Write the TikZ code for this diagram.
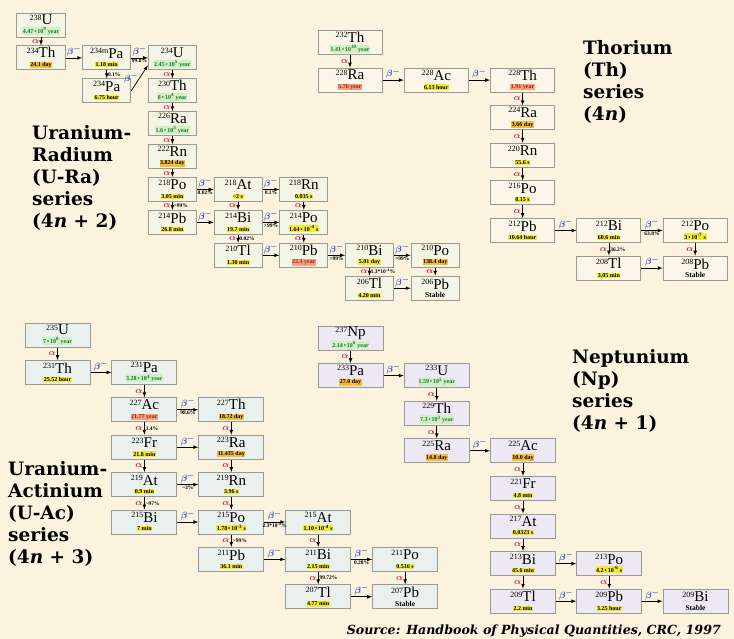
\documentclass[tikz,border=0pt]{standalone}
\usepackage{fontspec}
\setmainfont{Liberation Serif}
\newfontfamily\headfont{DejaVu Serif}
\usetikzlibrary{matrix, arrows}

\definecolor{bgcol}{HTML}{FBF3DE}
\definecolor{edgecol}{HTML}{9A9A94}
\definecolor{uracol}{HTML}{F4F5E4}
\definecolor{thcol}{HTML}{FBF6E8}
\definecolor{uaccol}{HTML}{E9F0EE}
\definecolor{npcol}{HTML}{EEE8F4}
\definecolor{hlgreen}{HTML}{0E7A2E}
\definecolor{hlmint}{HTML}{D2EEC4}
\definecolor{hlyellow}{HTML}{F4EA2E}
\definecolor{hlgold}{HTML}{F2BE3C}
\definecolor{hlsalmon}{HTML}{F4A07C}
\definecolor{hlred}{HTML}{9E2412}
\definecolor{alphacol}{HTML}{D8234F}
\definecolor{betacol}{HTML}{2A48D8}

\newcommand{\iso}[2]{{\fontsize{15}{15}\selectfont\raisebox{4.6pt}{\fontsize{8}{8}\selectfont #1}#2}}
\newcommand{\hlg}[1]{{\setlength{\fboxsep}{0.5pt}\colorbox{hlmint}{\color{hlgreen}\bfseries #1}}}
\newcommand{\hly}[1]{{\setlength{\fboxsep}{0.5pt}\colorbox{hlyellow}{\bfseries #1}}}
\newcommand{\hlo}[1]{{\setlength{\fboxsep}{0.5pt}\colorbox{hlgold}{\bfseries #1}}}
\newcommand{\hlr}[1]{{\setlength{\fboxsep}{0.5pt}\colorbox{hlsalmon}{\color{hlred}\bfseries #1}}}
\newcommand{\stab}{{\fontsize{7.5}{7.5}\selectfont\bfseries Stable}}
\newcommand{\tp}[1]{\,•\,10\textsuperscript{#1}}

\tikzset{
  nuc/.style={draw=edgecol, line width=1pt, inner sep=0pt, minimum height=24pt, align=center, font=\fontsize{6}{8.5}\selectfont},
  ura/.style={nuc, fill=uracol, minimum width=48pt},
  thr/.style={nuc, fill=thcol, minimum width=64pt},
  uac/.style={nuc, fill=uaccol, minimum width=65pt},
  npt/.style={nuc, fill=npcol, minimum width=65pt},
  decay/.style={->, >=latex, line width=0.7pt},
  alab/.style={left, inner sep=1.5pt, text=alphacol, font=\fontsize{9.5}{9.5}\selectfont\mathversion{bold}},
  blab/.style={above, inner sep=1pt, text=betacol, font=\fontsize{9.5}{9.5}\selectfont\mathversion{bold}},
  pct/.style={inner sep=1pt, font=\fontsize{5.5}{5.5}\selectfont\bfseries},
  head/.style={anchor=north west, inner sep=0pt, align=left, font=\headfont\bfseries\fontsize{18.5}{22}\selectfont},
}

\begin{document}
\begin{tikzpicture}[x=1pt, y=-1pt]
\useasboundingbox (0,0) rectangle (734,639);
\fill[bgcol] (0,0) rectangle (734,639);

\matrix (mura) [matrix anchor=u238.center, row sep={32.9pt,between origins}, column sep={65.7pt,between origins}] at (41,25) {
\node[ura](u238){\iso{238}{U}\\\hlg{4.47\tp{9} year}}; & & & & & & \\
\node[ura](th234){\iso{234}{Th}\\\hlo{24.1 day}}; & \node[ura](pa234m){\iso{234m}{Pa}\\\hly{1.18 min}}; & \node[ura](u234){\iso{234}{U}\\\hlg{2.45\tp{5} year}}; & & & & \\
 & \node[ura](pa234){\iso{234}{Pa}\\\hly{6.75 hour}}; & \node[ura](th230){\iso{230}{Th}\\\hlg{8\tp{4} year}}; & & & & \\
 & & \node[ura](ra226){\iso{226}{Ra}\\\hlg{1.6\tp{3} year}}; & & & & \\
 & & \node[ura](rn222){\iso{222}{Rn}\\\hlo{3.824 day}}; & & & & \\
 & & \node[ura](po218){\iso{218}{Po}\\\hly{3.05 min}}; & \node[ura](at218){\iso{218}{At}\\\hly{\textasciitilde2 s}}; & \node[ura](rn218){\iso{218}{Rn}\\\hly{0.035 s}}; & & \\
 & & \node[ura](pb214){\iso{214}{Pb}\\\hly{26.8 min}}; & \node[ura](bi214){\iso{214}{Bi}\\\hly{19.7 min}}; & \node[ura](po214){\iso{214}{Po}\\\hly{1.64\tp{-4} s}}; & & \\
 & & & \node[ura](tl210){\iso{210}{Tl}\\\hly{1.30 min}}; & \node[ura](pb210){\iso{210}{Pb}\\\hlr{22.3 year}}; & \node[ura](bi210){\iso{210}{Bi}\\\hly{5.01 day}}; & \node[ura](po210){\iso{210}{Po}\\\hlo{138.4 day}}; \\
 & & & & & \node[ura](tl206){\iso{206}{Tl}\\\hly{4.20 min}}; & \node[ura](pb206){\iso{206}{Pb}\\\stab}; \\
};
\draw [decay](u238) -- (th234) node[alab, pos=.5]{$\alpha$};
\draw [decay](th234) -- (pa234m) node[blab, pos=.5]{$\beta^-$};
\draw [decay](pa234m) -- (u234) node[blab, pos=.5]{$\beta^-$} node[pct, below, pos=.5]{99.8\%};
\draw [decay](pa234m) -- (pa234) node[pct, right, pos=.5]{0.1\%};
\draw [decay](pa234.east) -- ([yshift=5pt]u234.south west) node[blab, left, pos=.5]{$\beta^-$};
\draw [decay](u234) -- (th230) node[alab, pos=.5]{$\alpha$};
\draw [decay](th230) -- (ra226) node[alab, pos=.5]{$\alpha$};
\draw [decay](ra226) -- (rn222) node[alab, pos=.5]{$\alpha$};
\draw [decay](rn222) -- (po218) node[alab, pos=.5]{$\alpha$};
\draw [decay](po218) -- (at218) node[blab, pos=.5]{$\beta^-$} node[pct, below, pos=.5]{0.02\%};
\draw [decay](po218) -- (pb214) node[alab, pos=.5]{$\alpha$} node[pct, right, pos=.5]{>99\%};
\draw [decay](at218) -- (rn218) node[blab, pos=.5]{$\beta^-$} node[pct, below, pos=.5]{0.1\%};
\draw [decay](at218) -- (bi214) node[alab, pos=.5]{$\alpha$};
\draw [decay](pb214) -- (bi214) node[blab, pos=.5]{$\beta^-$};
\draw [decay](rn218) -- (po214) node[alab, pos=.5]{$\alpha$};
\draw [decay](bi214) -- (po214) node[blab, pos=.5]{$\beta^-$} node[pct, below, pos=.5]{>99\%};
\draw [decay](bi214) -- (tl210) node[alab, pos=.5]{$\alpha$} node[pct, right, pos=.5]{0.02\%};
\draw [decay](po214) -- (pb210) node[alab, pos=.5]{$\alpha$};
\draw [decay](tl210) -- (pb210) node[blab, pos=.5]{$\beta^-$};
\draw [decay](pb210) -- (bi210) node[blab, pos=.5]{$\beta^-$} node[pct, below, pos=.5]{>99\%};
\draw [decay](bi210) -- (po210) node[blab, pos=.5]{$\beta^-$} node[pct, below, pos=.5]{>99\%};
\draw [decay](bi210) -- (tl206) node[alab, pos=.5]{$\alpha$} node[pct, right, pos=.5]{1.3*10\textsuperscript{-4}\%};
\draw [decay](po210) -- (pb206) node[alab, pos=.5]{$\alpha$};
\draw [decay](tl206) -- (pb206) node[blab, pos=.5]{$\beta^-$};

\matrix (mth) [matrix anchor=th232.center, row sep={37.6pt,between origins}, column sep={86.3pt,between origins}] at (350,42.5) {
\node[thr](th232){\iso{232}{Th}\\\hlg{1.41\tp{10} year}}; & & & & \\
\node[thr](ra228){\iso{228}{Ra}\\\hlr{5.76 year}}; & \node[thr](ac228){\iso{228}{Ac}\\\hly{6.13 hour}}; & \node[thr](th228){\iso{228}{Th}\\\hlr{1.91 year}}; & & \\
 & & \node[thr](ra224){\iso{224}{Ra}\\\hlo{3.66 day}}; & & \\
 & & \node[thr](rn220){\iso{220}{Rn}\\\hly{55.6 s}}; & & \\
 & & \node[thr](po216){\iso{216}{Po}\\\hly{0.15 s}}; & & \\
 & & \node[thr](pb212){\iso{212}{Pb}\\\hly{10.64 hour}}; & \node[thr](bi212){\iso{212}{Bi}\\\hly{60.6 min}}; & \node[thr](po212){\iso{212}{Po}\\\hly{3\tp{-7} s}}; \\
 & & & \node[thr](tl208){\iso{208}{Tl}\\\hly{3.05 min}}; & \node[thr](pb208){\iso{208}{Pb}\\\stab}; \\
};
\draw [decay](th232) -- (ra228) node[alab, pos=.5]{$\alpha$};
\draw [decay](ra228) -- (ac228) node[blab, pos=.5]{$\beta^-$};
\draw [decay](ac228) -- (th228) node[blab, pos=.5]{$\beta^-$};
\draw [decay](th228) -- (ra224) node[alab, pos=.5]{$\alpha$};
\draw [decay](ra224) -- (rn220) node[alab, pos=.5]{$\alpha$};
\draw [decay](rn220) -- (po216) node[alab, pos=.5]{$\alpha$};
\draw [decay](po216) -- (pb212) node[alab, pos=.5]{$\alpha$};
\draw [decay](pb212) -- (bi212) node[blab, pos=.5]{$\beta^-$};
\draw [decay](bi212) -- (po212) node[blab, pos=.5]{$\beta^-$} node[pct, below, pos=.5]{63.8\%};
\draw [decay](bi212) -- (tl208) node[alab, pos=.5]{$\alpha$} node[pct, right, pos=.5]{36.2\%};
\draw [decay](po212) -- (pb208) node[alab, pos=.5]{$\alpha$};
\draw [decay](tl208) -- (pb208) node[blab, pos=.5]{$\beta^-$};

\matrix (muac) [matrix anchor=u235.center, row sep={37.4pt,between origins}, column sep={86.9pt,between origins}] at (57.5,335) {
\node[uac](u235){\iso{235}{U}\\\hlg{7\tp{8} year}}; & & & & \\
\node[uac](th231){\iso{231}{Th}\\\hly{25.52 hour}}; & \node[uac](pa231){\iso{231}{Pa}\\\hlg{3.28\tp{4} year}}; & & & \\
 & \node[uac](ac227){\iso{227}{Ac}\\\hlr{21.77 year}}; & \node[uac](th227){\iso{227}{Th}\\\hlo{18.72 day}}; & & \\
 & \node[uac](fr223){\iso{223}{Fr}\\\hly{21.8 min}}; & \node[uac](ra223){\iso{223}{Ra}\\\hlo{11.435 day}}; & & \\
 & \node[uac](at219){\iso{219}{At}\\\hly{0.9 min}}; & \node[uac](rn219){\iso{219}{Rn}\\\hly{3.96 s}}; & & \\
 & \node[uac](bi215){\iso{215}{Bi}\\\hly{7 min}}; & \node[uac](po215){\iso{215}{Po}\\\hly{1.78\tp{-3} s}}; & \node[uac](at215){\iso{215}{At}\\\hly{1.10\tp{-4} s}}; & \\
 & & \node[uac](pb211){\iso{211}{Pb}\\\hly{36.1 min}}; & \node[uac](bi211){\iso{211}{Bi}\\\hly{2.15 min}}; & \node[uac](po211){\iso{211}{Po}\\\hly{0.516 s}}; \\
 & & & \node[uac](tl207){\iso{207}{Tl}\\\hly{4.77 min}}; & \node[uac](pb207){\iso{207}{Pb}\\\stab}; \\
};
\draw [decay](u235) -- (th231) node[alab, pos=.5]{$\alpha$};
\draw [decay](th231) -- (pa231) node[blab, pos=.5]{$\beta^-$};
\draw [decay](pa231) -- (ac227) node[alab, pos=.5]{$\alpha$};
\draw [decay](ac227) -- (th227) node[blab, pos=.5]{$\beta^-$} node[pct, below, pos=.5]{98.6\%};
\draw [decay](ac227) -- (fr223) node[alab, pos=.5]{$\alpha$} node[pct, right, pos=.5]{1.4\%};
\draw [decay](th227) -- (ra223) node[alab, pos=.5]{$\alpha$};
\draw [decay](fr223) -- (ra223) node[blab, pos=.5]{$\beta^-$};
\draw [decay](fr223) -- (at219) node[alab, pos=.5]{$\alpha$};
\draw [decay](ra223) -- (rn219) node[alab, pos=.5]{$\alpha$};
\draw [decay](at219) -- (rn219) node[blab, pos=.5]{$\beta^-$} node[pct, below, pos=.5]{\textasciitilde3\%};
\draw [decay](at219) -- (bi215) node[alab, pos=.5]{$\alpha$} node[pct, right, pos=.5]{\textasciitilde97\%};
\draw [decay](rn219) -- (po215) node[alab, pos=.5]{$\alpha$};
\draw [decay](bi215) -- (po215) node[blab, pos=.5]{$\beta^-$};
\draw [decay](po215) -- (at215) node[blab, pos=.5]{$\beta^-$} node[pct, below, pos=.5]{2.3*10\textsuperscript{-4}\%};
\draw [decay](po215) -- (pb211) node[alab, pos=.5]{$\alpha$} node[pct, right, pos=.5]{>99\%};
\draw [decay](pb211) -- (bi211) node[blab, pos=.5]{$\beta^-$};
\draw [decay](at215) -- (bi211) node[alab, pos=.5]{$\alpha$};
\draw [decay](bi211) -- (po211) node[blab, pos=.5]{$\beta^-$} node[pct, below, pos=.5]{0.28\%};
\draw [decay](bi211) -- (tl207) node[alab, pos=.5]{$\alpha$} node[pct, right, pos=.5]{99.72\%};
\draw [decay](po211) -- (pb207) node[alab, pos=.5]{$\alpha$};
\draw [decay](tl207) -- (pb207) node[blab, pos=.5]{$\beta^-$};

\matrix (mnp) [matrix anchor=np237.center, row sep={37.6pt,between origins}, column sep={86.25pt,between origins}] at (350.5,338) {
\node[npt](np237){\iso{237}{Np}\\\hlg{2.14\tp{6} year}}; & & & & \\
\node[npt](pa233){\iso{233}{Pa}\\\hlo{27.0 day}}; & \node[npt](u233){\iso{233}{U}\\\hlg{1.59\tp{5} year}}; & & & \\
 & \node[npt](th229){\iso{229}{Th}\\\hlg{7.3\tp{3} year}}; & & & \\
 & \node[npt](ra225){\iso{225}{Ra}\\\hlo{14.8 day}}; & \node[npt](ac225){\iso{225}{Ac}\\\hlo{10.0 day}}; & & \\
 & & \node[npt](fr221){\iso{221}{Fr}\\\hly{4.8 min}}; & & \\
 & & \node[npt](at217){\iso{217}{At}\\\hly{0.0323 s}}; & & \\
 & & \node[npt](bi213){\iso{213}{Bi}\\\hly{45.6 min}}; & \node[npt](po213){\iso{213}{Po}\\\hly{4.2\tp{-6} s}}; & \\
 & & \node[npt](tl209){\iso{209}{Tl}\\\hly{2.2 min}}; & \node[npt](pb209){\iso{209}{Pb}\\\hly{3.25 hour}}; & \node[npt](bi209){\iso{209}{Bi}\\\stab}; \\
};
\draw [decay](np237) -- (pa233) node[alab, pos=.5]{$\alpha$};
\draw [decay](pa233) -- (u233) node[blab, pos=.5]{$\beta^-$};
\draw [decay](u233) -- (th229) node[alab, pos=.5]{$\alpha$};
\draw [decay](th229) -- (ra225) node[alab, pos=.5]{$\alpha$};
\draw [decay](ra225) -- (ac225) node[blab, pos=.5]{$\beta^-$};
\draw [decay](ac225) -- (fr221) node[alab, pos=.5]{$\alpha$};
\draw [decay](fr221) -- (at217) node[alab, pos=.5]{$\alpha$};
\draw [decay](at217) -- (bi213) node[alab, pos=.5]{$\alpha$};
\draw [decay](bi213) -- (po213) node[blab, pos=.5]{$\beta^-$};
\draw [decay](bi213) -- (tl209) node[alab, pos=.5]{$\alpha$};
\draw [decay](po213) -- (pb209) node[alab, pos=.5]{$\alpha$};
\draw [decay](tl209) -- (pb209) node[blab, pos=.5]{$\beta^-$};
\draw [decay](pb209) -- (bi209) node[blab, pos=.5]{$\beta^-$};

\node[head] (thtitle) at (583,40) {Thorium\\(Th)\\series\\(4\textit{n})};
\node[head] (uratitle) at (32,125) {Uranium-\\Radium\\(U-Ra)\\series\\(4\textit{n} + 2)};
\node[head] (uactitle) at (8,461) {Uranium-\\Actinium\\(U-Ac)\\series\\(4\textit{n} + 3)};
\node[head] (nptitle) at (572,349) {Neptunium\\(Np)\\series\\(4\textit{n} + 1)};
\node[anchor=base east, inner sep=0pt, font=\headfont\bfseries\itshape\fontsize{12.6}{12.6}\selectfont] (source) at (721,634) {Source: Handbook of Physical Quantities, CRC, 1997};
\end{tikzpicture}
\end{document}
